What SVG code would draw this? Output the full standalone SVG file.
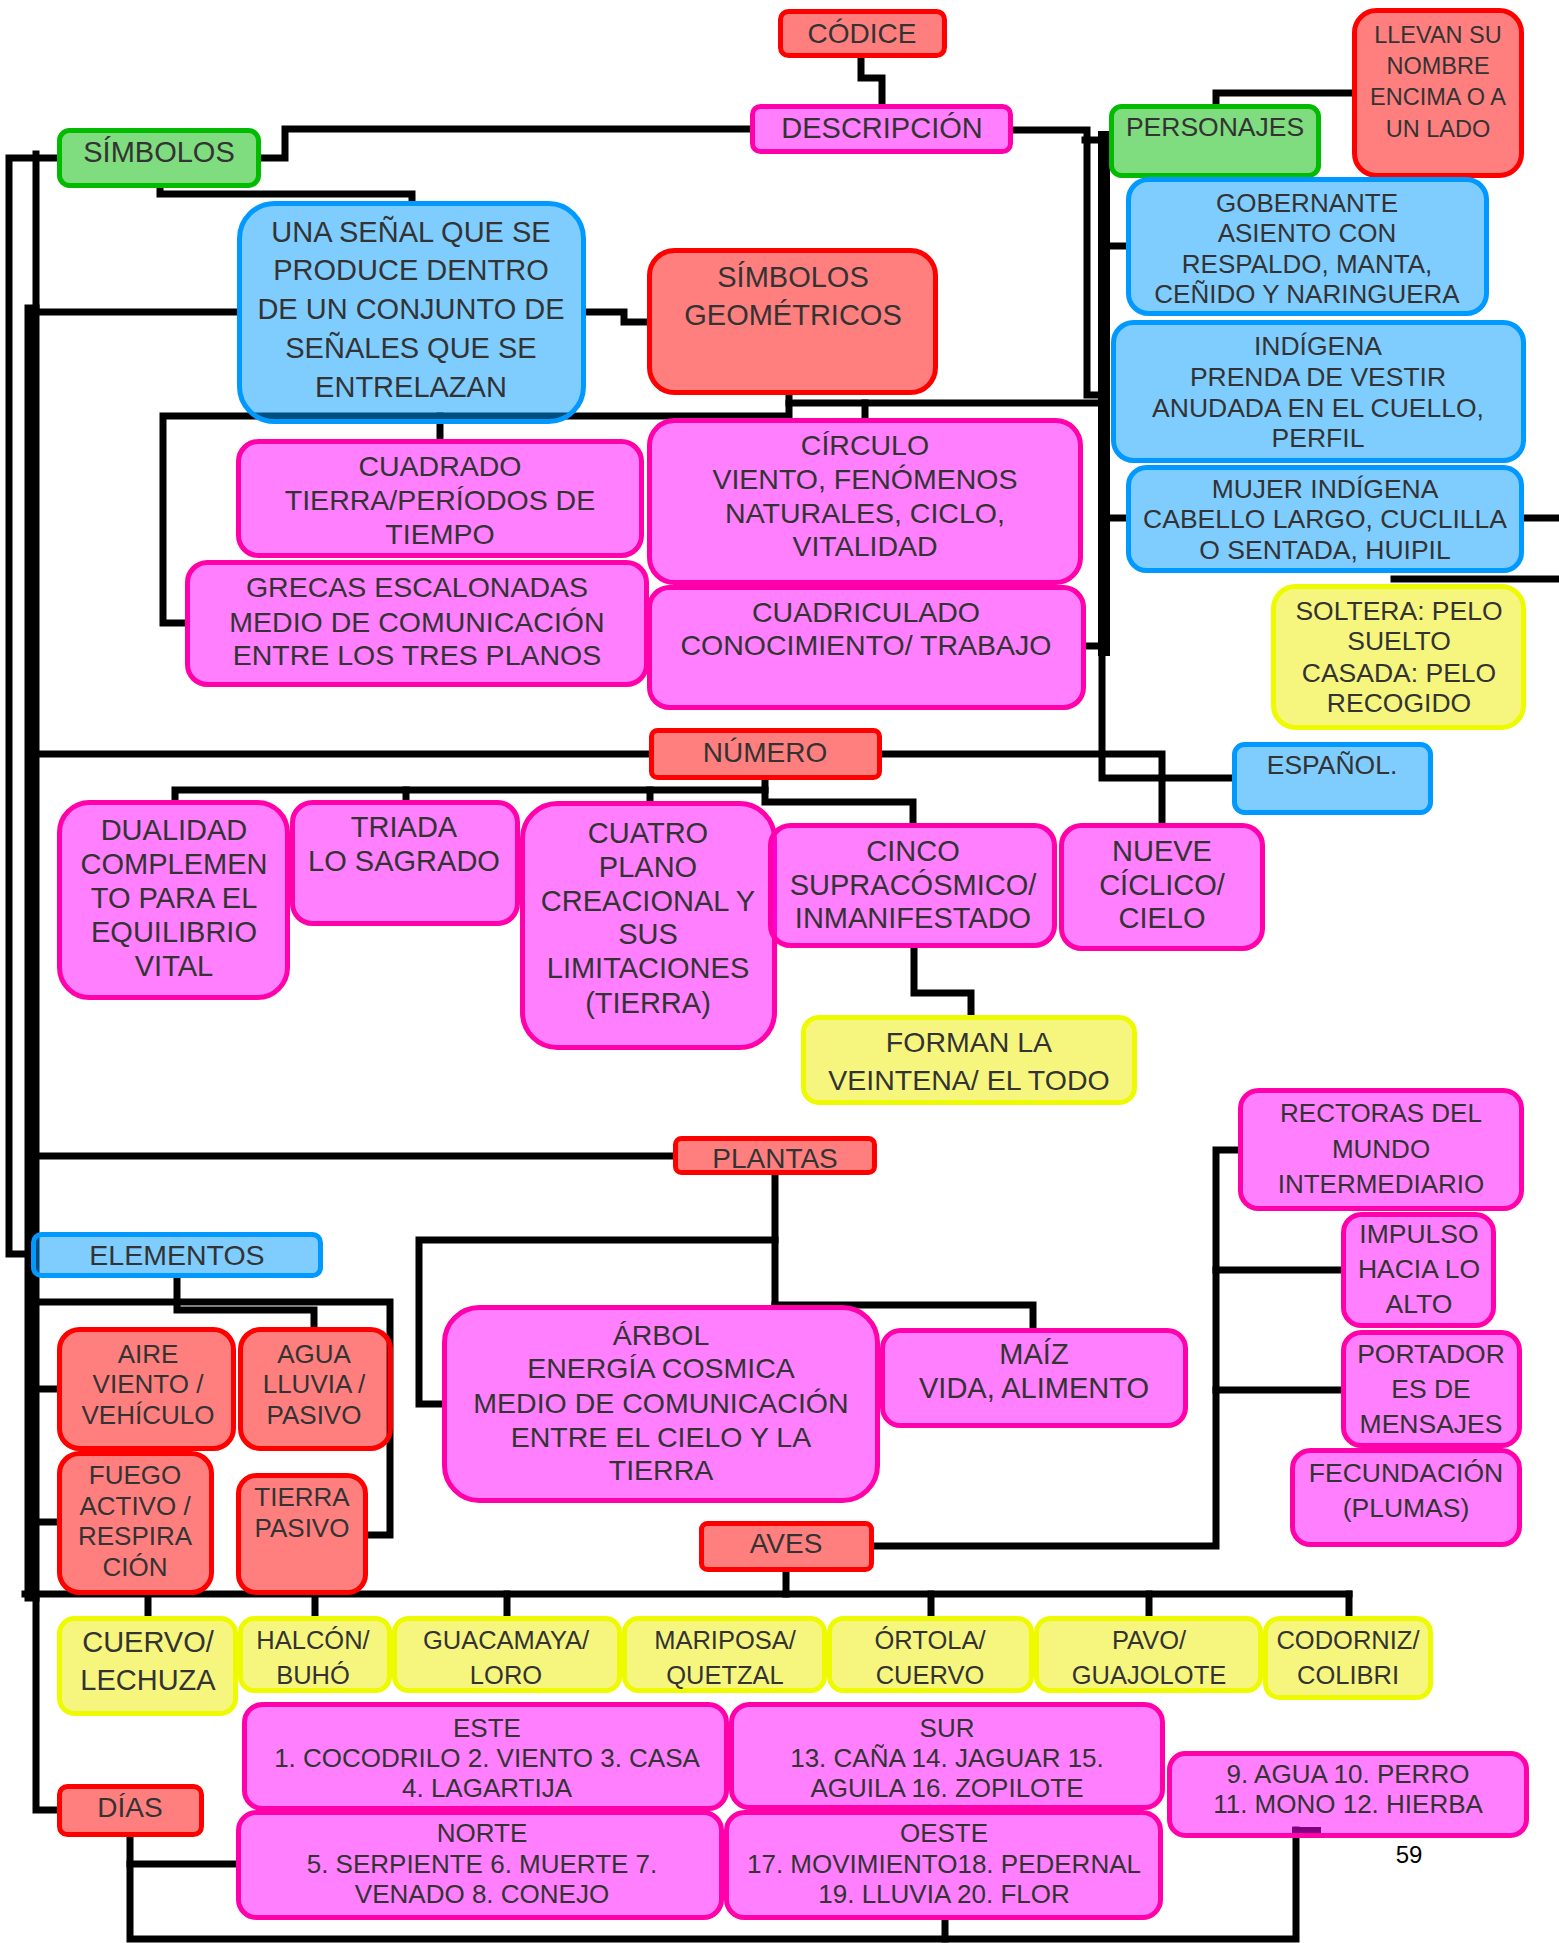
<svg xmlns="http://www.w3.org/2000/svg" width="1559" height="1943" viewBox="0 0 1559 1943">
<style>
.bg{fill:#ffffff}
.c path{fill:none;stroke:#000;stroke-width:7;stroke-linejoin:miter;stroke-linecap:square}
.c .thick{stroke-width:15}
.n rect{stroke-width:5}
.red rect{fill:rgba(255,0,0,0.5);stroke:#ff0000}
.pink rect{fill:rgba(255,0,255,0.5);stroke:#ff00aa}
.blue rect{fill:rgba(0,153,255,0.5);stroke:#0099ff}
.green rect{fill:rgba(0,185,0,0.5);stroke:#00bb00}
.yellow rect{fill:rgba(238,238,0,0.5);stroke:#eefa00}
text{font-family:"Liberation Sans",Arial,sans-serif;fill:#333333;text-anchor:middle}
.s23 text{font-size:23.5px}
.s25 text{font-size:25.5px}
.s26 text{font-size:26px}
.s265 text{font-size:26.5px}
.s28 text{font-size:28px}
.s285 text{font-size:28.5px}
.s29 text{font-size:29px}
</style>
<rect class="bg" x="0" y="0" width="1559" height="1943"/>
<g id="connectors" class="c">
<path d="M861,58 V78 H882 V104"/>
<path d="M261,158 H285 V129 H750"/>
<path d="M160,188 V194 H412 V201"/>
<path d="M586,312 H624 V322 H647"/>
<path d="M57,158 H9 V1254 H31"/>
<path d="M36,154 V310"/>
<path class="thick" d="M32,312 V1594"/>
<path d="M32,312 H237"/>
<path d="M185,623 H163 V416 H789 V395"/>
<path d="M440,416 V439"/>
<path d="M789,403 H1104"/>
<path d="M865,403 V418"/>
<path d="M1013,130 H1087 V395 H1104"/>
<path class="thick" style="stroke-width:12" d="M1104,137 V650"/>
<path d="M1085,140 H1109"/>
<path d="M1104,246 H1126"/>
<path d="M1104,518 H1126"/>
<path d="M1086,646 H1104"/>
<path d="M1102,650 V778 H1232"/>
<path d="M1216,104 V93 H1352"/>
<path d="M1524,518 H1559"/>
<path d="M1394,579 H1559"/>
<path d="M32,754 H649"/>
<path d="M882,754 H1162 V823"/>
<path d="M765,780 V802 H913 V823"/>
<path d="M175,800 V790 H765"/>
<path d="M406,790 V800"/>
<path d="M650,790 V801"/>
<path d="M914,948 V993 H971 V1015"/>
<path d="M32,1156 H673"/>
<path d="M775,1175 V1305"/>
<path d="M775,1240 H419 V1404 H442"/>
<path d="M775,1305 H1033 V1328"/>
<path d="M32,1302 H390 V1535 H368"/>
<path d="M177,1278 V1310 H314 V1327"/>
<path d="M32,1389 H57"/>
<path d="M32,1522 H57"/>
<path d="M874,1546 H1216 V1150 H1238"/>
<path d="M1216,1270 H1341"/>
<path d="M1216,1390 H1341"/>
<path d="M786,1572 V1594"/>
<path d="M25,1594 H1349"/>
<path d="M148,1594 V1616"/>
<path d="M315,1594 V1616"/>
<path d="M507,1594 V1616"/>
<path d="M931,1594 V1616"/>
<path d="M1149,1594 V1616"/>
<path d="M1349,1594 V1616"/>
<path d="M36,1598 V1810 H57"/>
<path d="M130,1837 V1939 H1296 V1830"/>
<path d="M130,1864 H236"/>
<path d="M945,1920 V1939"/>
<path style="stroke-width:8;stroke-linecap:butt" d="M1292,1831 H1321"/>
</g>
<g id="codice" class="n red s28"><rect x="780.5" y="11.5" width="164" height="44" rx="8"/><text x="862" y="43">CÓDICE</text></g>
<g id="descripcion" class="n pink s29"><rect x="752.5" y="106.5" width="258" height="45" rx="8"/><text x="882" y="138">DESCRIPCIÓN</text></g>
<g id="simbolos" class="n green s29"><rect x="59.5" y="130.5" width="199" height="55" rx="10"/><text x="159" y="162">SÍMBOLOS</text></g>
<g id="personajes" class="n green s265"><rect x="1111.5" y="106.5" width="207" height="69" rx="10"/><text x="1215" y="136">PERSONAJES</text></g>
<g id="llevan" class="n red s23"><rect x="1354.5" y="10.5" width="167" height="165" rx="22"/><text x="1438" y="43">LLEVAN SU</text><text x="1438" y="74">NOMBRE</text><text x="1438" y="105">ENCIMA O A</text><text x="1438" y="137">UN LADO</text></g>
<g id="gobernante" class="n blue s26"><rect x="1128.5" y="179.5" width="358" height="134" rx="20"/><text x="1307" y="212">GOBERNANTE</text><text x="1307" y="242">ASIENTO CON</text><text x="1307" y="273">RESPALDO, MANTA,</text><text x="1307" y="303">CEÑIDO Y NARINGUERA</text></g>
<g id="indigena" class="n blue s265"><rect x="1113.5" y="322.5" width="410" height="138" rx="20"/><text x="1318" y="355">INDÍGENA</text><text x="1318" y="386">PRENDA DE VESTIR</text><text x="1318" y="417">ANUDADA EN EL CUELLO,</text><text x="1318" y="447">PERFIL</text></g>
<g id="mujer" class="n blue s265"><rect x="1128.5" y="467.5" width="393" height="103" rx="18"/><text x="1325" y="498">MUJER INDÍGENA</text><text x="1325" y="528">CABELLO LARGO, CUCLILLA</text><text x="1325" y="559">O SENTADA, HUIPIL</text></g>
<g id="soltera" class="n yellow s265"><rect x="1273.5" y="586.5" width="250" height="141" rx="22"/><text x="1399" y="620">SOLTERA: PELO</text><text x="1399" y="650">SUELTO</text><text x="1399" y="682">CASADA: PELO</text><text x="1399" y="712">RECOGIDO</text></g>
<g id="espanol" class="n blue s265"><rect x="1234.5" y="744.5" width="196" height="68" rx="10"/><text x="1332" y="774">ESPAÑOL.</text></g>
<g id="unasenal" class="n blue s29"><rect x="239.5" y="203.5" width="344" height="218" rx="35"/><text x="411" y="242">UNA SEÑAL QUE SE</text><text x="411" y="280">PRODUCE DENTRO</text><text x="411" y="319">DE UN CONJUNTO DE</text><text x="411" y="358">SEÑALES QUE SE</text><text x="411" y="397">ENTRELAZAN</text></g>
<g id="simbgeom" class="n red s29"><rect x="649.5" y="250.5" width="286" height="142" rx="25"/><text x="793" y="287">SÍMBOLOS</text><text x="793" y="325">GEOMÉTRICOS</text></g>
<g id="cuadrado" class="n pink s285"><rect x="238.5" y="441.5" width="403" height="114" rx="20"/><text x="440" y="476">CUADRADO</text><text x="440" y="510">TIERRA/PERÍODOS DE</text><text x="440" y="544">TIEMPO</text></g>
<g id="grecas" class="n pink s285"><rect x="187.5" y="562.5" width="459" height="122" rx="20"/><text x="417" y="597">GRECAS ESCALONADAS</text><text x="417" y="632">MEDIO DE COMUNICACIÓN</text><text x="417" y="665">ENTRE LOS TRES PLANOS</text></g>
<g id="circulo" class="n pink s285"><rect x="649.5" y="420.5" width="431" height="162" rx="25"/><text x="865" y="455">CÍRCULO</text><text x="865" y="489">VIENTO, FENÓMENOS</text><text x="865" y="523">NATURALES, CICLO,</text><text x="865" y="556">VITALIDAD</text></g>
<g id="cuadriculado" class="n pink s285"><rect x="649.5" y="587.5" width="434" height="120" rx="20"/><text x="866" y="622">CUADRICULADO</text><text x="866" y="655">CONOCIMIENTO/ TRABAJO</text></g>
<g id="numero" class="n red s28"><rect x="651.5" y="730.5" width="228" height="47" rx="6"/><text x="765" y="762">NÚMERO</text></g>
<g id="dualidad" class="n pink s29"><rect x="59.5" y="802.5" width="228" height="195" rx="30"/><text x="174" y="840">DUALIDAD</text><text x="174" y="874">COMPLEMEN</text><text x="174" y="908">TO PARA EL</text><text x="174" y="942">EQUILIBRIO</text><text x="174" y="976">VITAL</text></g>
<g id="triada" class="n pink s29"><rect x="292.5" y="802.5" width="225" height="121" rx="20"/><text x="404" y="837">TRIADA</text><text x="404" y="871">LO SAGRADO</text></g>
<g id="cuatro" class="n pink s29"><rect x="522.5" y="803.5" width="252" height="244" rx="35"/><text x="648" y="843">CUATRO</text><text x="648" y="877">PLANO</text><text x="648" y="911">CREACIONAL Y</text><text x="648" y="944">SUS</text><text x="648" y="978">LIMITACIONES</text><text x="648" y="1013">(TIERRA)</text></g>
<g id="cinco" class="n pink s29"><rect x="770.5" y="825.5" width="284" height="120" rx="20"/><text x="913" y="861">CINCO</text><text x="913" y="895">SUPRACÓSMICO/</text><text x="913" y="928">INMANIFESTADO</text></g>
<g id="nueve" class="n pink s29"><rect x="1061.5" y="825.5" width="201" height="123" rx="20"/><text x="1162" y="861">NUEVE</text><text x="1162" y="895">CÍCLICO/</text><text x="1162" y="928">CIELO</text></g>
<g id="forman" class="n yellow s285"><rect x="803.5" y="1017.5" width="331" height="85" rx="15"/><text x="969" y="1052">FORMAN LA</text><text x="969" y="1090">VEINTENA/ EL TODO</text></g>
<g id="plantas" class="n red s28"><rect x="675.5" y="1138.5" width="199" height="34" rx="6"/><text x="775" y="1168">PLANTAS</text></g>
<g id="elementos" class="n blue s285"><rect x="33.5" y="1234.5" width="287" height="41" rx="8"/><text x="177" y="1265">ELEMENTOS</text></g>
<g id="arbol" class="n pink s285"><rect x="444.5" y="1307.5" width="433" height="193" rx="35"/><text x="661" y="1345">ÁRBOL</text><text x="661" y="1378">ENERGÍA COSMICA</text><text x="661" y="1413">MEDIO DE COMUNICACIÓN</text><text x="661" y="1447">ENTRE EL CIELO Y LA</text><text x="661" y="1480">TIERRA</text></g>
<g id="maiz" class="n pink s29"><rect x="882.5" y="1330.5" width="303" height="95" rx="18"/><text x="1034" y="1364">MAÍZ</text><text x="1034" y="1398">VIDA, ALIMENTO</text></g>
<g id="rectoras" class="n pink s26"><rect x="1240.5" y="1090.5" width="281" height="118" rx="18"/><text x="1381" y="1122">RECTORAS DEL</text><text x="1381" y="1158">MUNDO</text><text x="1381" y="1193">INTERMEDIARIO</text></g>
<g id="impulso" class="n pink s265"><rect x="1343.5" y="1214.5" width="150" height="111" rx="18"/><text x="1419" y="1243">IMPULSO</text><text x="1419" y="1278">HACIA LO</text><text x="1419" y="1313">ALTO</text></g>
<g id="portador" class="n pink s265"><rect x="1343.5" y="1332.5" width="176" height="113" rx="18"/><text x="1431" y="1363">PORTADOR</text><text x="1431" y="1398">ES DE</text><text x="1431" y="1433">MENSAJES</text></g>
<g id="fecundacion" class="n pink s265"><rect x="1292.5" y="1450.5" width="227" height="94" rx="18"/><text x="1406" y="1482">FECUNDACIÓN</text><text x="1406" y="1517">(PLUMAS)</text></g>
<g id="aire" class="n red s26"><rect x="59.5" y="1329.5" width="174" height="119" rx="20"/><text x="148" y="1363">AIRE</text><text x="148" y="1393">VIENTO /</text><text x="148" y="1424">VEHÍCULO</text></g>
<g id="agua" class="n red s26"><rect x="240.5" y="1329.5" width="150" height="119" rx="20"/><text x="314" y="1363">AGUA</text><text x="314" y="1393">LLUVIA /</text><text x="314" y="1424">PASIVO</text></g>
<g id="fuego" class="n red s26"><rect x="59.5" y="1453.5" width="152" height="139" rx="20"/><text x="135" y="1484">FUEGO</text><text x="135" y="1515">ACTIVO /</text><text x="135" y="1545">RESPIRA</text><text x="135" y="1576">CIÓN</text></g>
<g id="tierra" class="n red s26"><rect x="238.5" y="1475.5" width="127" height="117" rx="18"/><text x="302" y="1506">TIERRA</text><text x="302" y="1537">PASIVO</text></g>
<g id="aves" class="n red s28"><rect x="701.5" y="1523.5" width="170" height="46" rx="6"/><text x="786" y="1553">AVES</text></g>
<g id="cuervo" class="n yellow s29"><rect x="59.5" y="1618.5" width="176" height="95" rx="15"/><text x="148" y="1652">CUERVO/</text><text x="148" y="1690">LECHUZA</text></g>
<g id="halcon" class="n yellow s25"><rect x="240.5" y="1618.5" width="149" height="72" rx="14"/><text x="313" y="1649">HALCÓN/</text><text x="313" y="1684">BUHÓ</text></g>
<g id="guacamaya" class="n yellow s25"><rect x="394.5" y="1618.5" width="225" height="72" rx="14"/><text x="506" y="1649">GUACAMAYA/</text><text x="506" y="1684">LORO</text></g>
<g id="mariposa" class="n yellow s25"><rect x="624.5" y="1618.5" width="200" height="72" rx="14"/><text x="725" y="1649">MARIPOSA/</text><text x="725" y="1684">QUETZAL</text></g>
<g id="ortola" class="n yellow s25"><rect x="829.5" y="1618.5" width="202" height="72" rx="14"/><text x="930" y="1649">ÓRTOLA/</text><text x="930" y="1684">CUERVO</text></g>
<g id="pavo" class="n yellow s25"><rect x="1036.5" y="1618.5" width="224" height="72" rx="14"/><text x="1149" y="1649">PAVO/</text><text x="1149" y="1684">GUAJOLOTE</text></g>
<g id="codorniz" class="n yellow s25"><rect x="1265.5" y="1618.5" width="165" height="79" rx="14"/><text x="1348" y="1649">CODORNIZ/</text><text x="1348" y="1684">COLIBRI</text></g>
<g id="este" class="n pink s26"><rect x="244.5" y="1704.5" width="482" height="104" rx="18"/><text x="487" y="1737">ESTE</text><text x="487" y="1767">1. COCODRILO 2. VIENTO 3. CASA</text><text x="487" y="1797">4. LAGARTIJA</text></g>
<g id="sur" class="n pink s26"><rect x="731.5" y="1704.5" width="431" height="103" rx="18"/><text x="947" y="1737">SUR</text><text x="947" y="1767">13. CAÑA 14. JAGUAR 15.</text><text x="947" y="1797">AGUILA 16. ZOPILOTE</text></g>
<g id="norte" class="n pink s26"><rect x="238.5" y="1812.5" width="483" height="105" rx="18"/><text x="482" y="1842">NORTE</text><text x="482" y="1873">5. SERPIENTE 6. MUERTE 7.</text><text x="482" y="1903">VENADO 8. CONEJO</text></g>
<g id="oeste" class="n pink s26"><rect x="726.5" y="1812.5" width="434" height="105" rx="18"/><text x="944" y="1842">OESTE</text><text x="944" y="1873">17. MOVIMIENTO18. PEDERNAL</text><text x="944" y="1903">19. LLUVIA 20. FLOR</text></g>
<g id="agua9" class="n pink s26"><rect x="1169.5" y="1753.5" width="357" height="82" rx="16"/><text x="1348" y="1783">9. AGUA 10. PERRO</text><text x="1348" y="1813">11. MONO 12. HIERBA</text></g>
<g id="dias" class="n red s28"><rect x="59.5" y="1786.5" width="142" height="48" rx="8"/><text x="130" y="1817">DÍAS</text></g>
<text x="1409" y="1863" style="font-size:24px;fill:#000">59</text>
</svg>
